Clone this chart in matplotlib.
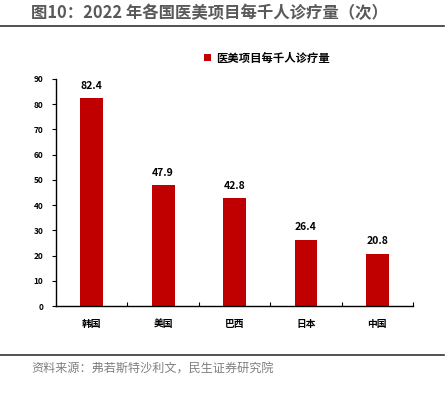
import matplotlib.pyplot as plt
from matplotlib.lines import Line2D

plt.rcParams['font.family'] = ['Noto Sans CJK SC', 'DejaVu Sans']

countries = ['韩国', '美国', '巴西', '日本', '中国']
visits = [82.4, 47.9, 42.8, 26.4, 20.8]
yticks = [0, 10, 20, 30, 40, 50, 60, 70, 80, 90]

fig = plt.figure(figsize=(4.48, 3.93), dpi=100)
ax = fig.add_axes([0.125, 0.221, 0.797, 0.578])

bars = ax.bar(range(len(countries)), visits, width=0.32, color='#C00000',
              label='医美项目每千人诊疗量')
for i, v in enumerate(visits):
    ax.text(i, v + 3, f'{v}', ha='center', va='bottom', fontsize=7.5, fontweight='bold')

ax.set_xlim(-0.5, len(countries) - 0.5)
ax.set_ylim(0, 90)
ax.set_yticks(yticks)
ax.set_xticks(range(len(countries)))
ax.set_xticklabels(countries, fontsize=7, fontweight='bold')
ax.set_xticks([i + 0.5 for i in range(len(countries))], minor=True)
ax.tick_params(axis='x', which='major', length=0, pad=9)
ax.tick_params(axis='x', which='minor', length=3, direction='in', width=0.8)
ax.tick_params(axis='y', labelsize=6, length=3, width=0.8, pad=6)
for lbl in ax.get_yticklabels():
    lbl.set_fontweight('bold')
ax.spines['top'].set_visible(False)
ax.spines['right'].set_visible(False)
ax.spines['left'].set_linewidth(1)
ax.spines['bottom'].set_linewidth(1)

ax.legend(loc='upper left', bbox_to_anchor=(0.385, 1.165), frameon=False,
          handlelength=0.6, handleheight=0.6, handletextpad=0.5,
          prop={'weight': 'bold', 'size': 8.2})

fig.text(0.07, 0.99, '图10：2022 年各国医美项目每千人诊疗量（次）', fontsize=11.8,
         fontweight='bold', color='#595959', va='top', ha='left')
fig.add_artist(Line2D([0.0, 0.99], [0.934, 0.934], color='#333333', linewidth=1.2))
fig.add_artist(Line2D([0.0, 0.99], [0.097, 0.097], color='#333333', linewidth=1.2))
fig.text(0.07, 0.06, '资料来源：弗若斯特沙利文，民生证券研究院', fontsize=8.7,
         color='#7f7f7f', va='center', ha='left')

fig.savefig('out.png', dpi=100)
